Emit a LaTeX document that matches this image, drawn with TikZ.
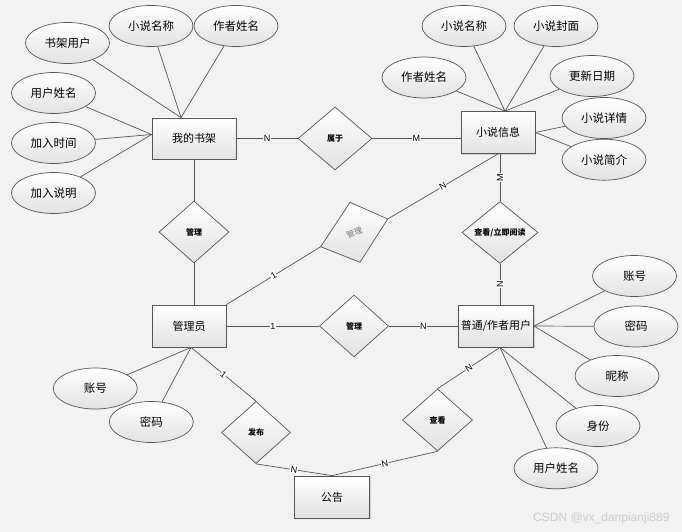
\documentclass[tikz,border=0pt]{standalone}
\usepackage{fontspec}
\usetikzlibrary{shapes.geometric,calc,shadows}
\newfontfamily\cjk{Noto Sans CJK SC}
\newfontfamily\lab{Liberation Sans}
\definecolor{bg}{RGB}{242,242,242}
\definecolor{edge}{RGB}{85,85,85}
\definecolor{shadebot}{RGB}{226,226,226}
\definecolor{wmark}{RGB}{205,205,205}
\begin{document}
\begin{tikzpicture}[x=1pt,y=-1pt,
  ent/.style={rectangle, draw=edge, line width=0.8pt, top color=white, bottom color=shadebot,
    minimum width=75pt, minimum height=42pt, inner sep=0pt,
    drop shadow={shadow xshift=1pt,shadow yshift=-1pt,opacity=0.3},
    font=\cjk\fontsize{11}{13}\selectfont},
  attr/.style={ellipse, draw=edge, line width=0.7pt, top color=white, bottom color=shadebot,
    minimum width=84pt, minimum height=41pt, inner sep=0pt, font=\cjk\fontsize{11.5}{13}\selectfont},
  rel/.style={diamond, draw=edge, line width=0.7pt, top color=white, bottom color=shadebot,
    inner sep=0pt, minimum width=70pt, minimum height=62pt, font=\cjk\bfseries\fontsize{8}{9}\selectfont},
  conn/.style={draw=edge, line width=0.7pt},
  card/.style={fill=white, inner sep=0.6pt, font=\lab\fontsize{9}{9}\selectfont},
]
\fill[bg] (0,0) rectangle (682,532);
\useasboundingbox (0,0) rectangle (682,532);

% entities
\node[ent, minimum width=84pt, minimum height=41pt] (shelf) at (194,138.5) {我的书架};
\node[ent, minimum width=74pt] (novel) at (498,132.5) {小说信息};
\node[ent, minimum width=74pt] (admin) at (189,326) {管理员};
\node[ent] (user) at (496,326) {普通/作者用户};
\node[ent] (notice) at (332,497) {公告};

% relationships
\node[rel] (mg1) at (194,232) {管理};
\node[rel, minimum width=74pt, minimum height=63pt] (belong) at (335,138.5) {属于};
\node[rel, minimum width=76pt] (read) at (500,232.5) {查看/立即阅读};
\node[rel, minimum width=69pt] (mg3) at (354,326) {管理};
\node[rel, minimum width=69pt] (publish) at (256,432.5) {发布};
\node[rel] (view) at (437.5,420) {查看};

\coordinate (mgT) at (350,202.3);
\coordinate (mgR) at (387.7,219);
\coordinate (mgB) at (360,262.3);
\coordinate (mgL) at (320.7,246.7);
\path[draw=edge, line width=0.7pt, top color=white, bottom color=shadebot] (mgT) -- (mgR) -- (mgB) -- (mgL) -- cycle;
\node[rotate=22, inner sep=0pt, text=black!55, font=\cjk\fontsize{8}{9}\selectfont] (mg2) at (354.5,232.5) {管理};

% attributes of 我的书架
\node[attr] (a1) at (67.5,43) {书架用户};
\node[attr] (a2) at (151,26) {小说名称};
\node[attr] (a3) at (236,26) {作者姓名};
\node[attr] (a4) at (53.5,93) {用户姓名};
\node[attr] (a5) at (53.5,143) {加入时间};
\node[attr] (a6) at (53.5,193) {加入说明};

% attributes of 小说信息
\node[attr] (b1) at (464,26) {小说名称};
\node[attr] (b2) at (556,26) {小说封面};
\node[attr] (b3) at (424,77.5) {作者姓名};
\node[attr] (b4) at (592,76) {更新日期};
\node[attr] (b5) at (604,118) {小说详情};
\node[attr] (b6) at (604,159.7) {小说简介};

% attributes of 普通/作者用户
\node[attr] (c1) at (634.5,276) {账号};
\node[attr] (c2) at (636,326.5) {密码};
\node[attr] (c3) at (617,376) {昵称};
\node[attr] (c4) at (598,426) {身份};
\node[attr] (c5) at (556,468.3) {用户姓名};

% attributes of 管理员
\node[attr] (d1) at (95.3,388.5) {账号};
\node[attr] (d2) at (151.3,422) {密码};

% convergence points
\coordinate (shT) at ($(shelf.north)+(-13,0)$);
\coordinate (shL) at ($(shelf.west)+(0,-4)$);
\coordinate (nvT) at ($(novel.north)+(7,0)$);
\coordinate (adS) at ($(admin.south)+(2,0)$);
\coordinate (usS) at ($(user.south)+(4,0)$);

% attribute links
\foreach \a in {a1,a2,a3} \draw[conn] (\a) -- (shT);
\foreach \a in {a4,a5,a6} \draw[conn] (\a) -- (shL);
\foreach \a in {b1,b2,b3,b4} \draw[conn] (\a) -- (nvT);
\foreach \a in {b5,b6} \draw[conn] (\a) -- (novel.east);
\foreach \a in {c1,c2,c3} \draw[conn] (\a) -- (user.east);
\foreach \a in {c4,c5} \draw[conn] (\a) -- (usS);
\foreach \a in {d1,d2} \draw[conn] (\a) -- (adS);

% relationship links
\draw[conn] (shelf.east) -- node[card] {N} (belong.west);
\draw[conn] (belong.east) -- node[card] {M} (belong.east -| novel.west);
\draw[conn] (shelf.south) -- (mg1.north);
\draw[conn] (mg1.south) -- (mg1.south |- admin.north);
\draw[conn] (admin.north east) -- node[card, sloped] {1} (mgL);
\draw[conn] (mgR) -- node[card, sloped] {N} (novel.south);
\draw[conn] (read.north |- novel.south) -- node[card, rotate=90] {M} (read.north);
\draw[conn] (read.south) -- node[card, rotate=90] {N} (read.south |- user.north);
\draw[conn] (admin.east) -- node[card] {1} (mg3.west);
\draw[conn] (mg3.east) -- node[card] {N} (user.west);
\draw[conn] (adS) -- node[card, sloped] {1} (publish.north);
\draw[conn] (publish.south) -- node[card, sloped] {N} (notice.north);
\draw[conn] (usS) -- node[card, sloped] {N} (view.north);
\draw[conn] (view.south) -- node[card, sloped] {N} (notice.north);

\node[anchor=east, text=wmark, font=\lab\fontsize{12}{12}\selectfont] (wm) at (673,518) {CSDN @vx\_danpianji889};
\end{tikzpicture}
\end{document}
